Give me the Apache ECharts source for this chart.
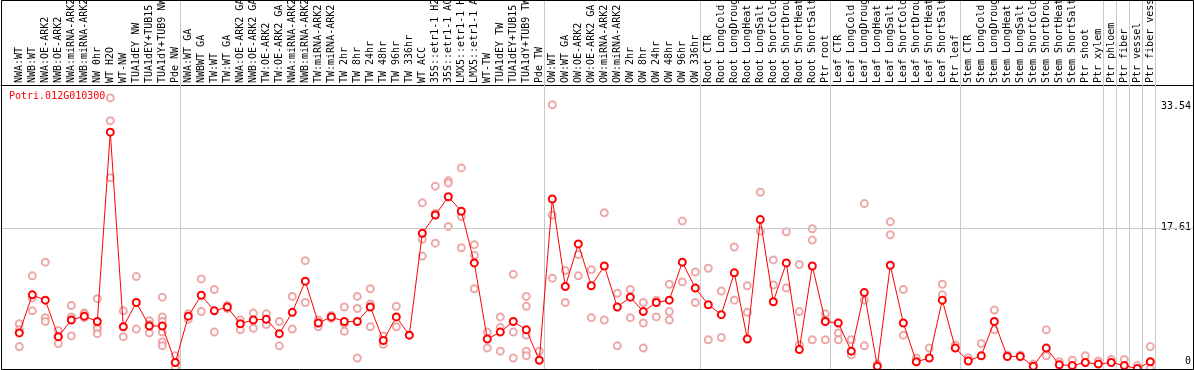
<!DOCTYPE html>
<html>
<head>
<meta charset="utf-8">
<script src="https://cdn.jsdelivr.net/npm/echarts@6/dist/echarts.min.js"></script>
<style>
  html, body { margin: 0; padding: 0; background: #fff; }
  #chart { width: 1194px; height: 370px; }
</style>
</head>
<body>
<div id="chart"></div>
<script>
const geneName = 'Potri.012G010300';

const categories = [
  'NWA:WT', 'NWB:WT', 'NWA:OE-ARK2', 'NWB:OE-ARK2', 'NWA:miRNA-ARK2', 'NWB:miRNA-ARK2',
  'NW 0hr', 'WT H2O', 'WT-NW', 'TUA1dEY NW', 'TUA1dEY+TUB15', 'TUA1dY+TUB9 NW', 'Pde NW',
  'NWA:WT GA', 'NWBWT GA', 'TW:WT', 'TW:WT GA', 'NWA:OE-ARK2 GA', 'NWB:OE-ARK2 GA',
  'TW:OE-ARK2', 'TW:OE-ARK2 GA', 'NWA:miRNA-ARK2', 'NWB:miRNA-ARK2', 'TW:miRNA-ARK2', 'TW:miRNA-ARK2',
  'TW 2hr', 'TW 8hr', 'TW 24hr', 'TW 48hr', 'TW 96hr', 'TW 336hr', 'WT ACC',
  '35S::etr1-1 H2O', '35S::etr1-1 ACC', 'LMX5::etr1-1 H2O', 'LMX5::etr1-1 ACC',
  'WT-TW', 'TUA1dEY TW', 'TUA1dEY+TUB15', 'TUA1dY+TUB9 TW', 'Pde TW',
  'OW:WT', 'OW:WT GA', 'OW:OE-ARK2', 'OW:OE-ARK2 GA', 'OW:miRNA-ARK2', 'OW:miRNA-ARK2',
  'OW 2hr', 'OW 8hr', 'OW 24hr', 'OW 48hr', 'OW 96hr', 'OW 336hr',
  'Root CTR', 'Root LongCold', 'Root LongDrought', 'Root LongHeat', 'Root LongSalt',
  'Root ShortCold', 'Root ShortDrought', 'Root ShortHeat', 'Root ShortSalt', 'Ptr root',
  'Leaf CTR', 'Leaf LongCold', 'Leaf LongDrought', 'Leaf LongHeat', 'Leaf LongSalt',
  'Leaf ShortCold', 'Leaf ShortDrought', 'Leaf ShortHeat', 'Leaf ShortSalt', 'Ptr leaf',
  'Stem CTR', 'Stem LongCold', 'Stem LongDrought', 'Stem LongHeat', 'Stem LongSalt',
  'Stem ShortCold', 'Stem ShortDrought', 'Stem ShortHeat', 'Stem ShortSalt', 'Ptr shoot',
  'Ptr xylem', 'Ptr phloem', 'Ptr fiber', 'Ptr vessel', 'Ptr fiber vessel'
];

const meanValues = [
  3.8, 8.8, 8.1, 3.3, 5.5, 6.0, 5.3, 30.2, 4.6, 7.8, 4.7, 4.7, -0.1,
  6.0, 8.75, 6.7, 7.2, 5.0, 5.5, 5.6, 3.7, 6.5, 10.6, 5.1, 5.9, 5.3, 5.3, 7.2, 2.8, 5.9, 3.5,
  16.9, 19.3, 21.7, 19.8, 13.0, 3.0, 3.9, 5.3, 4.2, 0.2,
  21.4, 9.9, 15.5, 10.0, 12.6, 7.2, 8.5, 6.6, 7.8, 8.1, 13.1, 9.7,
  7.5, 6.2, 11.7, 3.0, 18.7, 7.9, 13.0, 1.6, 12.6, 5.3,
  5.1, 1.4, 9.1, -0.6, 12.7, 5.1, 0.0, 0.5, 8.1, 1.8,
  0.1, 0.8, 5.3, 0.7, 0.7, -0.6, 1.8, -0.4, -0.5, -0.1,
  -0.3, -0.1, -0.5, -0.9, 0.0
];

const replicateValues = [
  [5.0, 4.2, 2.0], [11.3, 8.4, 6.7], [13.1, 5.8, 5.3], [4.1, 2.4, 3.3], [7.4, 5.9, 3.4],
  [6.4, 5.8, 6.3], [8.3, 4.6, 4.3, 3.7], [34.7, 31.7, 24.2], [6.7, 3.3], [11.2, 4.3],
  [5.4, 3.8, 4.9], [8.5, 5.9, 5.3, 3.9, 2.6, 2.1], [0.8, -0.8],
  [6.3, 5.6], [10.9, 6.6], [9.5, 3.9], [7.4, 7.0], [5.5, 4.2], [6.4, 4.4], [6.3, 4.9],
  [5.3, 2.1], [8.6, 4.3], [13.3, 7.8], [5.5, 4.6], [6.1, 5.7], [7.2, 5.0, 4.0],
  [8.6, 7.0, 0.5], [9.6, 7.6, 4.6], [3.4, 2.3], [7.3, 4.6], [3.5], [20.9, 16.1, 13.9],
  [23.1, 19.5, 15.6], [23.8, 23.5, 17.8], [25.5, 19.1, 15.0], [15.4, 14.0, 9.6],
  [3.9, 1.8], [5.9, 4.5, 1.4], [11.5, 3.9, 0.5], [8.6, 7.3, 3.5, 1.4, 0.8], [1.4, -1.0],
  [33.8, 19.3, 11.0], [12.0, 7.8], [14.1, 11.3], [12.1, 5.8], [19.6, 5.5], [9.0, 2.1],
  [9.5, 5.8], [7.8, 5.1, 1.8], [8.1, 5.9], [10.2, 6.6, 5.5], [18.5, 10.5], [11.8, 7.8],
  [12.3, 2.9], [9.3, 3.2], [15.1, 8.1], [10.0, 6.5], [22.3, 17.2], [13.4, 10.1],
  [17.1, 9.7], [12.8, 6.6, 2.2], [17.5, 16.0, 2.9], [6.3, 5.5, 2.9],
  [3.8, 2.9], [2.9, 0.9], [20.8, 8.1, 2.1], [-0.3], [18.4, 16.7], [9.5, 3.5],
  [0.5], [1.8], [10.2, 8.8], [2.2],
  [0.5], [2.4], [6.8, 4.2], [0.9], [0.9], [-0.3], [4.2, 0.8], [0.0], [0.2], [0.8],
  [0.1], [0.3], [0.3], [-0.5], [2.0, -0.9]
];

const yTickValues = [0, 17.61, 33.54];
const yMin = -0.95;
const yMax = 36.4;
// category indices after which a vertical separator is drawn (-1 = before first)
const separatorsAfter = [-1, 12, 40, 52, 62, 72, 83, 84, 85, 86, 87];

const MONO = 'DejaVu Sans Mono';
const RED = '#ff0000';
const PINK = '#e99494';
const GRIDGREY = '#c8c8c8';

const chart = echarts.init(document.getElementById('chart'), null, { renderer: 'canvas' });

const replicatePoints = [];
replicateValues.forEach((reps, i) => reps.forEach(v => replicatePoints.push([i, v])));

const option = {
  animation: false,
  backgroundColor: '#ffffff',
  title: {
    text: geneName, left: 9, top: 91, padding: 0,
    textStyle: { color: RED, fontFamily: MONO, fontSize: 10, fontWeight: 'normal' }
  },
  grid: [
    { left: 12.8, right: 37.2, top: 85, bottom: 1, outerBoundsMode: 'none', containLabel: false },
    { left: 12.8, right: 37.2, top: 0, bottom: 0, outerBoundsMode: 'none', containLabel: false },
    { left: 1, right: 1, top: 85, bottom: 1, outerBoundsMode: 'none', containLabel: false }
  ],
  xAxis: [
    {
      gridIndex: 0, type: 'category', data: categories, position: 'top', boundaryGap: true,
      axisLine: { show: false }, axisTick: { show: false }, splitLine: { show: false },
      axisLabel: { interval: 0, rotate: 90, margin: 2, fontFamily: MONO, fontSize: 10, color: '#000' }
    },
    { gridIndex: 1, type: 'value', min: -0.5, max: 87.5, show: false },
    {
      gridIndex: 2, type: 'value', min: 0, max: 1, position: 'top',
      axisLine: { show: true, onZero: false, lineStyle: { color: '#000', width: 1 } },
      axisTick: { show: false }, axisLabel: { show: false }, splitLine: { show: false }
    }
  ],
  yAxis: [
    { gridIndex: 0, type: 'value', min: yMin, max: yMax, show: false },
    { gridIndex: 1, type: 'value', min: 0, max: 1, show: false },
    {
      gridIndex: 2, type: 'value', min: yMin, max: yMax, position: 'right',
      axisLine: { show: false }, axisTick: { show: false }, splitLine: { show: false },
      axisLabel: {
        inside: true, margin: 2, customValues: yTickValues,
        formatter: v => String(v),
        fontFamily: MONO, fontSize: 10, color: '#000', backgroundColor: '#fff'
      }
    }
  ],
  graphic: [
    {
      type: 'rect', silent: true, z: 100,
      shape: { x: 1.5, y: 0.5, width: 1192, height: 369 },
      style: { fill: 'none', stroke: '#000', lineWidth: 1 }
    }
  ],
  series: [
    {
      type: 'line', xAxisIndex: 1, yAxisIndex: 1, data: [[0, 0]], showSymbol: false,
      lineStyle: { opacity: 0 }, silent: true, z: 0,
      markLine: {
        silent: true, symbol: ['none', 'none'], label: { show: false },
        lineStyle: { color: GRIDGREY, type: 'solid', width: 1 },
        data: separatorsAfter.map(s => ({ xAxis: s + 0.36 }))
      }
    },
    {
      type: 'line', xAxisIndex: 2, yAxisIndex: 2, data: [[0, 0]], showSymbol: false,
      lineStyle: { opacity: 0 }, silent: true, z: 0,
      markLine: {
        silent: true, symbol: ['none', 'none'], label: { show: false },
        lineStyle: { color: GRIDGREY, type: 'solid', width: 1 },
        data: [{ yAxis: yTickValues[1] }]
      }
    },
    {
      name: 'replicates', type: 'scatter', xAxisIndex: 0, yAxisIndex: 0,
      data: replicatePoints, symbol: 'emptyCircle', symbolSize: 7, z: 3,
      itemStyle: { color: PINK, borderColor: PINK, borderWidth: 1.3 }
    },
    {
      name: geneName, type: 'line', xAxisIndex: 0, yAxisIndex: 0,
      data: meanValues, symbol: 'emptyCircle', symbolSize: 7, z: 5,
      lineStyle: { color: RED, width: 1 },
      itemStyle: { color: RED, borderColor: RED, borderWidth: 1.8 }
    }
  ]
};
chart.setOption(option);
</script>
</body>
</html>
